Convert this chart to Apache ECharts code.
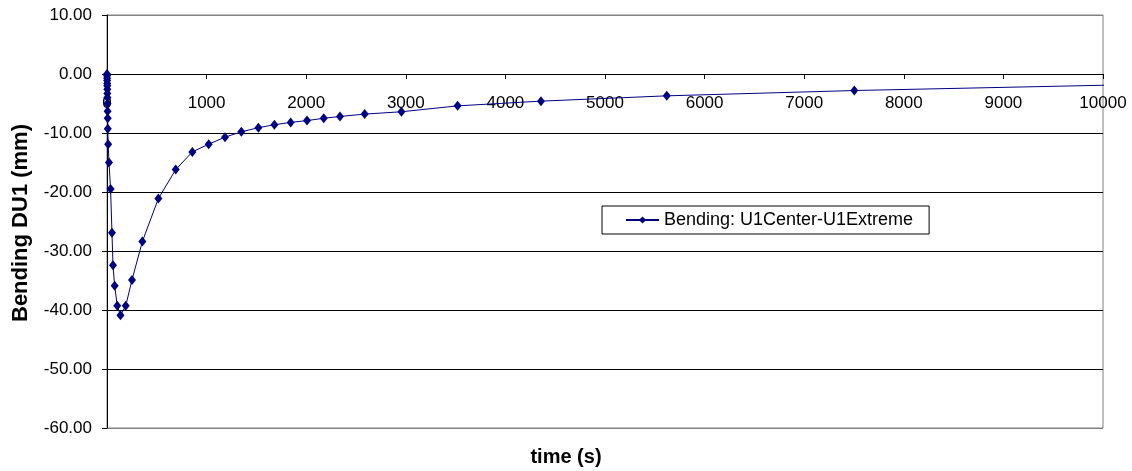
<!DOCTYPE html>
<html>
<head>
<meta charset="utf-8">
<script src="https://cdn.jsdelivr.net/npm/echarts@6/dist/echarts.min.js"></script>
<style>
  html, body { margin: 0; padding: 0; background: #ffffff; }
  #chart { width: 1132px; height: 471px; }
</style>
</head>
<body>
<div id="chart"></div>
<script>
// Bending displacement DU1 over time
const timeSeconds = [0, 0.5, 1, 1.5, 2, 2.5, 3, 3.5, 4, 5, 6, 7, 8, 12, 20, 36, 50, 60, 77, 103, 135, 188, 251, 355, 516, 690, 857, 1021, 1185, 1349, 1520, 1681, 1844, 2008, 2176, 2339, 2587, 2956, 3520, 4357, 5620, 7503, 10300];
const bendingDU1 = [0, -0.3, -0.7, -1.1, -1.6, -2.0, -2.6, -3.3, -4.0, -5.0, -6.3, -7.5, -9.3, -11.9, -15.0, -19.5, -26.9, -32.4, -35.9, -39.3, -40.9, -39.3, -34.9, -28.4, -21.1, -16.2, -13.2, -11.9, -10.7, -9.8, -9.1, -8.6, -8.2, -7.9, -7.5, -7.2, -6.8, -6.4, -5.4, -4.6, -3.7, -2.8, -1.8];
const seriesName = 'Bending: U1Center-U1Extreme';
const xTitle = 'time (s)';
const yTitle = 'Bending DU1 (mm)';

const FONT = '"Liberation Sans", Arial, sans-serif';
const chart = echarts.init(document.getElementById('chart'), null, { renderer: 'canvas' });

const points = timeSeconds.map((t, i) => [t, bendingDU1[i]]);

// plot area geometry; the time axis is drawn along the zero line
const GRID_TOP = 15, GRID_BOTTOM = 43, Y_MIN = -60, Y_MAX = 10;
const plotHeight = 471 - GRID_TOP - GRID_BOTTOM;
const zeroOffset = plotHeight * (Y_MAX - 0) / (Y_MAX - Y_MIN);

chart.setOption({
  animation: false,
  backgroundColor: '#ffffff',
  grid: {
    left: 107, right: 29, top: GRID_TOP, bottom: GRID_BOTTOM,
    show: true, borderColor: '#808080', borderWidth: 1
  },
  xAxis: {
    type: 'value', min: 0, max: 10000, interval: 1000,
    position: 'top', offset: -zeroOffset,
    axisLine: { onZero: false, lineStyle: { color: '#000000', width: 1 } },
    axisTick: { show: true, inside: true, length: 5, lineStyle: { color: '#000000' } },
    axisLabel: {
      inside: true, color: '#000000', fontFamily: FONT, fontSize: 17, margin: 21,
      formatter: v => String(v)
    },
    splitLine: { show: false }
  },
  yAxis: {
    type: 'value', min: Y_MIN, max: Y_MAX, interval: 10,
    axisLine: { show: true, lineStyle: { color: '#000000', width: 1 } },
    axisTick: { show: true, inside: false, length: 5, lineStyle: { color: '#000000' } },
    axisLabel: {
      color: '#000000', fontFamily: FONT, fontSize: 17, margin: 15,
      formatter: v => v.toFixed(2)
    },
    splitLine: {
      show: true,
      lineStyle: { color: ['#808080', '#000000', '#000000', '#000000', '#000000', '#000000', '#000000', '#808080'], width: 1 }
    }
  },
  legend: {
    show: true,
    left: 602, top: 206,
    orient: 'horizontal',
    borderColor: '#000000', borderWidth: 1,
    backgroundColor: '#ffffff',
    padding: [5, 16, 5, 23],
    itemWidth: 33, itemHeight: 9,
    textStyle: { color: '#000000', fontFamily: FONT, fontSize: 18 },
    data: [seriesName]
  },
  graphic: [
    {
      type: 'text', left: 'center', top: 447,
      style: { text: xTitle, font: 'bold 20px ' + FONT, fill: '#000000' }
    },
    {
      type: 'text',
      x: 10, y: 223,
      rotation: Math.PI / 2,
      style: { text: yTitle, font: 'bold 22px ' + FONT, fill: '#000000', align: 'center', verticalAlign: 'top' }
    }
  ],
  series: [{
    name: seriesName,
    type: 'line',
    data: points,
    clip: true,
    showAllSymbol: true,
    symbol: 'diamond',
    symbolSize: [8, 10],
    itemStyle: { color: '#000080' },
    lineStyle: { color: '#000080', width: 1 }
  }]
});
</script>
</body>
</html>
